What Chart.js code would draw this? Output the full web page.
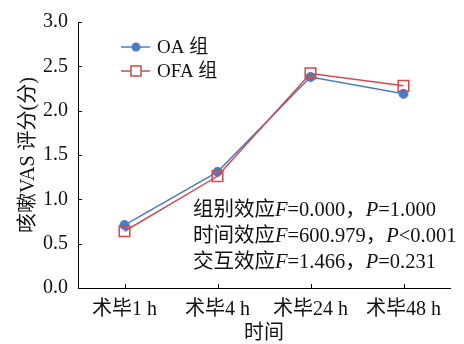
<!DOCTYPE html>
<html>
<head>
<meta charset="utf-8">
<script src="https://cdn.jsdelivr.net/npm/chart.js@4/dist/chart.umd.min.js"></script>
<style>
  html, body { margin: 0; padding: 0; background: #fff; }
  #wrap { width: 464px; height: 344px; }
</style>
</head>
<body>
<div id="wrap"><canvas id="c" width="464" height="344"></canvas></div>
<script>
// data
const timeLabels = ['术毕1 h', '术毕4 h', '术毕24 h', '术毕48 h'];
const oaValues = [0.71, 1.31, 2.38, 2.19];
const ofaValues = [0.64, 1.26, 2.42, 2.28];
const yTicks = [0, 0.5, 1.0, 1.5, 2.0, 2.5, 3.0];

const seriesNames = ['OA 组', 'OFA 组'];
const blue = '#4a7cc4';
const red = '#d04a4c';
const FONT = '"Liberation Serif", "Noto Sans CJK SC", serif';

// stats text lines, parts marked italic
const statLines = [
    [['组别效应', 0], ['F', 1], ['=0.000，', 0], ['P', 1], ['=1.000', 0]],
    [['时间效应', 0], ['F', 1], ['=600.979，', 0], ['P', 1], ['<0.001', 0]],
    [['交互效应', 0], ['F', 1], ['=1.466，', 0], ['P', 1], ['=0.231', 0]]
];

const extras = {
    id: 'extras',
    afterDraw(chart) {
        const ctx = chart.ctx;
        const xs = chart.scales.x, ys = chart.scales.y;
        ctx.save();
        // inward tick marks
        ctx.strokeStyle = '#000';
        ctx.lineWidth = 1;
        ctx.beginPath();
        yTicks.forEach(v => {
            const py = Math.round(ys.getPixelForValue(v)) + 0.5;
            ctx.moveTo(xs.left, py);
            ctx.lineTo(xs.left + 4, py);
        });
        timeLabels.forEach((l, i) => {
            const px = Math.round(xs.getPixelForValue(i)) + 0.5;
            ctx.moveTo(px, ys.bottom);
            ctx.lineTo(px, ys.bottom - 4);
        });
        ctx.stroke();

        // legend
        const legendItems = [
            { name: seriesNames[0], color: blue, y: 47, style: 'circle' },
            { name: seriesNames[1], color: red, y: 71, style: 'rect' }
        ];
        legendItems.forEach(it => {
            ctx.strokeStyle = it.color;
            ctx.lineWidth = 1.5;
            ctx.beginPath();
            ctx.moveTo(121, it.y);
            ctx.lineTo(150, it.y);
            ctx.stroke();
            if (it.style === 'circle') {
                ctx.fillStyle = it.color;
                ctx.beginPath();
                ctx.arc(136, it.y, 4.5, 0, Math.PI * 2);
                ctx.fill();
            } else {
                ctx.fillStyle = '#fff';
                ctx.fillRect(131, it.y - 5, 10, 10);
                ctx.strokeRect(131, it.y - 5, 10, 10);
            }
            ctx.fillStyle = '#111';
            ctx.font = '19px ' + FONT;
            ctx.textBaseline = 'middle';
            ctx.textAlign = 'left';
            ctx.fillText(it.name, 157, it.y + 1);
        });

        // stats
        ctx.fillStyle = '#111';
        ctx.textBaseline = 'middle';
        statLines.forEach((parts, li) => {
            let x = 193;
            const y = 211 + li * 26;
            parts.forEach(([txt, it]) => {
                ctx.font = (it ? 'italic ' : '') + '20.5px ' + FONT;
                ctx.fillText(txt, x, y);
                x += ctx.measureText(txt).width;
            });
        });
        ctx.restore();
    }
};

new Chart(document.getElementById('c').getContext('2d'), {
    type: 'line',
    data: {
        labels: timeLabels,
        datasets: [
            {
                label: seriesNames[0],
                data: oaValues,
                borderColor: blue,
                backgroundColor: blue,
                borderWidth: 1.5,
                pointStyle: 'circle',
                pointRadius: 4.5,
                pointBorderWidth: 1,
                order: 1
            },
            {
                label: seriesNames[1],
                data: ofaValues,
                borderColor: red,
                backgroundColor: 'rgba(255,255,255,0)',
                borderWidth: 1.5,
                pointStyle: 'rect',
                pointRadius: 7.5,
                pointBorderWidth: 1.5,
                order: 0
            }
        ]
    },
    options: {
        responsive: false,
        animation: false,
        layout: { padding: { top: 19, right: 14, left: 0, bottom: 0 } },
        plugins: {
            legend: { display: false },
            tooltip: { enabled: false }
        },
        scales: {
            x: {
                offset: true,
                grid: { display: false, drawTicks: false, offset: false },
                border: { color: '#000', width: 1 },
                ticks: {
                    color: '#111',
                    font: { family: FONT, size: 20 },
                    padding: 10,
                    maxRotation: 0
                },
                title: {
                    display: true,
                    text: '时间',
                    color: '#111',
                    font: { family: FONT, size: 20 },
                    padding: { top: 0, bottom: -2 }
                },
                afterFit(scale) { scale.height = 56; }
            },
            y: {
                min: 0,
                max: 3,
                afterBuildTicks(scale) { scale.ticks = yTicks.map(v => ({ value: v })); },
                grid: { display: false, drawTicks: false },
                border: { color: '#000', width: 1 },
                ticks: {
                    color: '#111',
                    font: { family: FONT, size: 20 },
                    padding: 10,
                    callback: v => v.toFixed(1)
                },
                title: {
                    display: true,
                    text: '咳嗽VAS 评分(分)',
                    color: '#111',
                    font: { family: FONT, size: 20 },
                    padding: { top: 17, bottom: 0 }
                },
                afterFit(scale) { scale.width = 78; }
            }
        }
    },
    plugins: [extras]
});
</script>
</body>
</html>
